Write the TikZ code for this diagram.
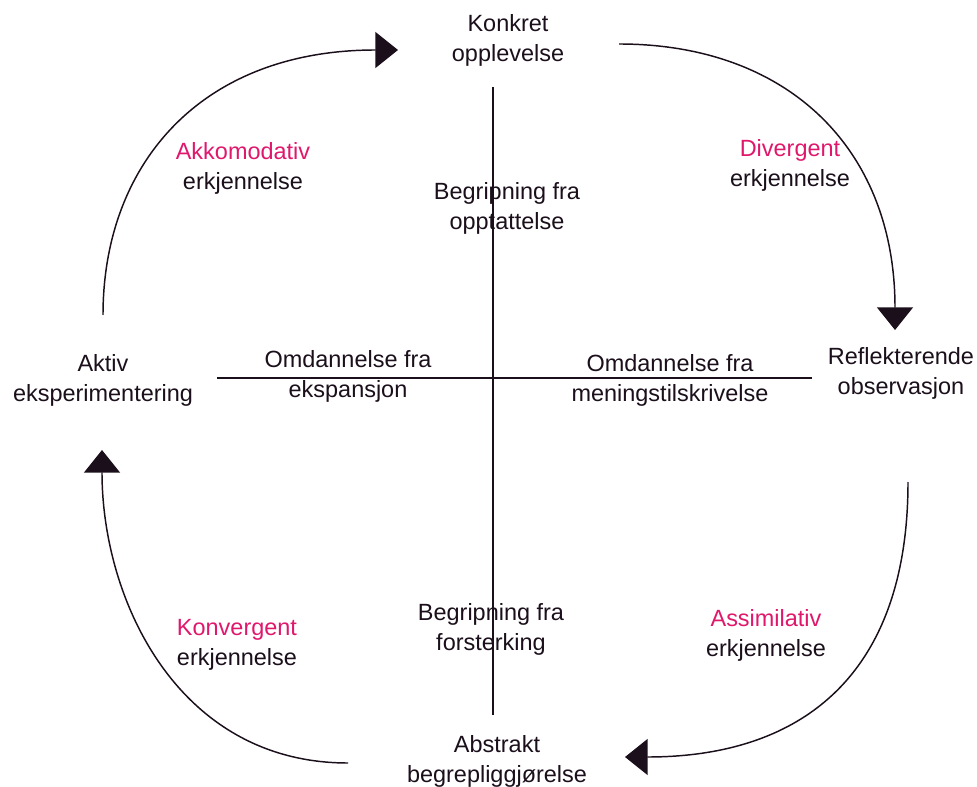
\documentclass[tikz,border=0pt]{standalone}
\usepackage{fontspec}
\setmainfont{Liberation Sans}
\usetikzlibrary{arrows.meta,calc}
\definecolor{ink}{HTML}{1A0F1A}
\definecolor{rose}{HTML}{E0186C}
\tikzset{
  pole/.style={align=center,inner sep=0pt,font=\fontsize{17.6}{22.5}\selectfont,text=ink},
  axlbl/.style={pole},
  stil/.style={pole},
  axis/.style={draw=ink,line width=1.3pt},
  cyc/.style={-{Triangle[length=17pt,width=27pt]},draw=ink,line width=1.1pt},
}
\begin{document}
\begin{tikzpicture}[x=0.75pt,y=-0.75pt]
  \useasboundingbox (0,0) rectangle (977,787);
  % the four poles of the cycle
  \node[pole] (konkret) at (508,40) {Konkret\\opplevelse};
  \node[pole] (refl) at (901,373) {Reflekterende\\observasjon};
  \node[pole] (abstr) at (497,761) {Abstrakt\\begrepliggjørelse};
  \node[pole] (aktiv) at (103,380) {Aktiv\\eksperimentering};
  % axes
  \coordinate (ax-n) at (493,87);
  \coordinate (ax-s) at (493,715);
  \coordinate (ax-w) at (217,378);
  \coordinate (ax-e) at (812,378);
  \draw[axis] (ax-n) -- (ax-s);
  \draw[axis] (ax-w) -- (ax-e);
  \node[axlbl] (begopp) at (507,208) {Begripning fra\\opptattelse};
  \node[axlbl] (begfor) at (491,629) {Begripning fra\\forsterking};
  \node[axlbl] (omdeks) at (348,376) {Omdannelse fra\\ekspansjon};
  \node[axlbl] (omdmen) at (670,380.5) {Omdannelse fra\\meningstilskrivelse};
  % learning styles
  \node[stil] (akk) at (243,168) {\textcolor{rose}{Akkomodativ}\\erkjennelse};
  \node[stil] (div) at (790,165) {\textcolor{rose}{Divergent}\\erkjennelse};
  \node[stil] (kon) at (237,645) {\textcolor{rose}{Konvergent}\\erkjennelse};
  \node[stil] (ass) at (766,635) {\textcolor{rose}{Assimilativ}\\erkjennelse};
  % cycle arcs
  \draw[cyc] ($(aktiv)+(0,-65)$) .. controls +(0,-150) and +(-198,0) .. ($(konkret)+(-110,10)$);
  \draw[cyc] ($(konkret)+(111,4)$) .. controls +(170,0) and +(0,-180) .. ($(refl)+(-6,-43)$);
  \draw[cyc] ($(refl)+(7,109)$) .. controls +(0,190) and +(180,0) .. ($(abstr)+(128,-4)$);
  \draw[cyc] ($(abstr)+(-149,2)$) .. controls +(-170,0) and +(0,150) .. ($(aktiv)+(-1,70)$);
\end{tikzpicture}
\end{document}
